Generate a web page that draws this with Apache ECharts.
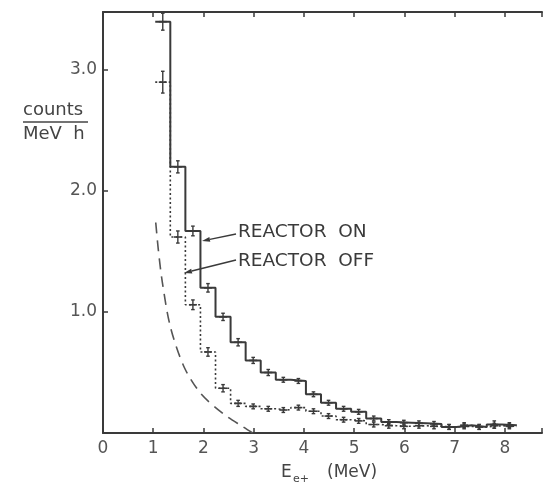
<!DOCTYPE html>
<html><head><meta charset="utf-8">
<script src="https://cdn.jsdelivr.net/npm/echarts@6/dist/echarts.min.js"></script>
<style>html,body{margin:0;padding:0;background:#fff}#c{width:545px;height:486px}</style>
</head><body><div id="c"></div>
<script>
// ---- data ----
const binEdges = [1.04,1.34,1.64,1.94,2.24,2.54,2.84,3.14,3.44,3.74,4.04,4.34,4.64,4.94,5.24,5.54,5.84,6.14,6.44,6.74,7.04,7.34,7.64,7.94,8.24];
const onValues = [3.40,2.20,1.67,1.20,0.96,0.75,0.60,0.50,0.44,0.43,0.32,0.25,0.20,0.175,0.12,0.09,0.085,0.08,0.075,0.05,0.065,0.05,0.07,0.065];
const offValues = [2.90,1.62,1.06,0.67,0.37,0.245,0.22,0.20,0.19,0.21,0.18,0.14,0.11,0.10,0.07,0.06,0.055,0.06,0.055,0.05,0.055,0.05,0.06,0.055];
const onErrors = [0.07,0.05,0.04,0.035,0.03,0.03,0.025,0.025,0.02,0.02,0.02,0.02,0.02,0.02,0.02,0.02,0.02,0.02,0.02,0.02,0.02,0.02,0.03,0.02];
const offErrors = [0.09,0.05,0.04,0.035,0.03,0.025,0.02,0.02,0.02,0.02,0.02,0.02,0.02,0.02,0.02,0.02,0.02,0.02,0.02,0.02,0.02,0.02,0.02,0.02];
const curveX = [1.05,1.10,1.18,1.34,1.61,1.94,2.39,2.79,2.98];
const curveY = [1.74,1.52,1.25,0.88,0.55,0.33,0.16,0.05,0.0];
const xTickValues = [0,1,2,3,4,5,6,7,8];
const yTickValues = [1,2,3];

// ---- build ----
function stepData(vals){
  const d = vals.map((v,i)=>[binEdges[i], v]);
  d.push([binEdges[vals.length], vals[vals.length-1]]);
  return d;
}
function errData(vals, errs){
  return vals.map((v,i)=>[(binEdges[i]+binEdges[i+1])/2, v, errs[i]]);
}
const INK = '#3a3a3a';
function errRender(params, api){
  const x = api.value(0), y = api.value(1), e = api.value(2);
  const t = api.coord([x, y+e]), b = api.coord([x, y-e]), c = api.coord([x, y]);
  const cap = 1.8, hb = 4;
  const st = {stroke: INK, lineWidth: 1.4};
  return {type:'group', children:[
    {type:'line', shape:{x1:t[0],y1:t[1],x2:b[0],y2:b[1]}, style:st},
    {type:'line', shape:{x1:t[0]-cap,y1:t[1],x2:t[0]+cap,y2:t[1]}, style:st},
    {type:'line', shape:{x1:b[0]-cap,y1:b[1],x2:b[0]+cap,y2:b[1]}, style:st},
    {type:'line', shape:{x1:c[0]-hb,y1:c[1],x2:c[0]+hb,y2:c[1]}, style:{stroke:INK,lineWidth:1.6}}
  ]};
}
function arrow(x1,y1,x2,y2){
  const ang = Math.atan2(y2-y1, x2-x1), L = 8, W = 2.4;
  const bx = x2 - L*Math.cos(ang), by = y2 - L*Math.sin(ang);
  const px = -Math.sin(ang)*W, py = Math.cos(ang)*W;
  return [
    {type:'line', shape:{x1:x1,y1:y1,x2:bx,y2:by}, style:{stroke:INK,lineWidth:1.5}},
    {type:'polygon', shape:{points:[[x2,y2],[bx+px,by+py],[bx-px,by-py]]}, style:{fill:INK}}
  ];
}
const FONT = 'DejaVu Sans';
const axisLineStyle = {color: INK, width: 2};
const chart = echarts.init(document.getElementById('c'), null, {renderer:'canvas'});
chart.setOption({
  backgroundColor:'#fff',
  animation:false,
  grid:{left:103, right:0, top:12, bottom:53},
  xAxis:[{
    type:'value', min:0, max:8.74, interval:1, position:'bottom',
    axisLine:{show:true, onZero:false, lineStyle:axisLineStyle},
    axisTick:{show:true, inside:true, length:5, lineStyle:{color:INK,width:1.5}},
    splitLine:{show:false},
    axisLabel:{color:'#555', fontFamily:FONT, fontSize:17, margin:7,
      formatter: v => xTickValues.includes(v) ? String(v) : ''}
  },{
    type:'value', min:0, max:8.74, interval:1, position:'top',
    axisLine:{show:true, onZero:false, lineStyle:axisLineStyle},
    axisTick:{show:true, inside:true, length:5, lineStyle:{color:INK,width:1.5}},
    splitLine:{show:false}, axisLabel:{show:false}
  }],
  yAxis:{
    type:'value', min:0, max:3.48, interval:1,
    axisLine:{show:true, onZero:false, lineStyle:axisLineStyle},
    axisTick:{show:true, inside:true, length:5, lineStyle:{color:INK,width:1.5}},
    splitLine:{show:false},
    axisLabel:{color:'#555', fontFamily:FONT, fontSize:17, margin:6,
      formatter: v => yTickValues.includes(v) ? v.toFixed(1) : ''}
  },
  series:[
    {type:'line', name:'REACTOR ON', data:stepData(onValues), step:'end', showSymbol:false,
     lineStyle:{color:INK, width:2}, z:3},
    {type:'line', name:'REACTOR OFF', data:stepData(offValues), step:'end', showSymbol:false,
     lineStyle:{color:INK, width:1.6, type:[2,2.5]}, z:2},
    {type:'line', name:'curve', data:curveX.map((x,i)=>[x,curveY[i]]), smooth:0.3, showSymbol:false,
     lineStyle:{color:'#555', width:1.6, type:[11,7]}, z:1},
    {type:'custom', data:errData(onValues,onErrors), renderItem:errRender, z:4},
    {type:'custom', data:errData(offValues,offErrors), renderItem:errRender, z:4}
  ],
  graphic:[
    {type:'text', left:23, top:101, style:{text:'counts', font:'18px "DejaVu Sans"', fill:'#444'}},
    {type:'line', shape:{x1:23,y1:122,x2:88,y2:122}, style:{stroke:'#444', lineWidth:1.5}},
    {type:'text', left:23, top:125, style:{text:'MeV  h', font:'18px "DejaVu Sans"', fill:'#444'}},
    {type:'text', left:238, top:223, style:{text:'REACTOR  ON', font:'18.5px "DejaVu Sans"', fill:'#3a3a3a'}},
    {type:'text', left:238, top:252, style:{text:'REACTOR  OFF', font:'18.5px "DejaVu Sans"', fill:'#3a3a3a'}},
    ...arrow(236,234,202,241),
    ...arrow(236,260,184,273),
    {type:'text', left:281, top:464, style:{text:'E', font:'17px "DejaVu Sans"', fill:'#444'}},
    {type:'text', left:293, top:474, style:{text:'e+', font:'11px "DejaVu Sans"', fill:'#444'}},
    {type:'text', left:327, top:464, style:{text:'(MeV)', font:'17px "DejaVu Sans"', fill:'#444'}}
  ]
});
</script>
</body></html>
